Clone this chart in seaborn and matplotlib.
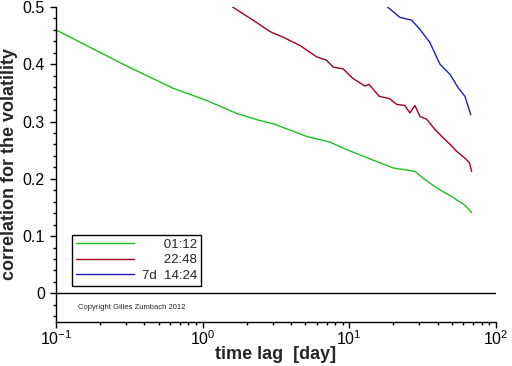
import numpy as np
import pandas as pd
import matplotlib
matplotlib.use("Agg")
import matplotlib.pyplot as plt
import matplotlib.ticker as mticker
import seaborn as sns

# values
green_x = [0.1, 0.303, 0.631, 1.06, 1.71, 2.43, 3.03, 4.15, 5.11, 7.38, 9.59,
           13.8, 15.4, 19.9, 28.0, 31.9, 39.4, 49.8, 61.4, 68.2]
green_y = [0.460, 0.397, 0.358, 0.337, 0.314, 0.302, 0.296, 0.283, 0.274, 0.264,
           0.251, 0.235, 0.230, 0.219, 0.213, 0.201, 0.184, 0.169, 0.154, 0.141]

red_x = [1.60, 2.33, 2.88, 3.55, 4.60, 5.98, 7.0, 7.76, 9.08, 10.6, 12.8, 13.6,
         16.0, 18.8, 21.0, 23.9, 25.9, 28.0, 30.3, 33.7, 38.4, 42.7, 48.7, 53.9,
         61.4, 66.0, 68.2]
red_y = [0.500, 0.473, 0.457, 0.447, 0.433, 0.413, 0.407, 0.395, 0.392, 0.375,
         0.362, 0.365, 0.344, 0.340, 0.330, 0.328, 0.315, 0.328, 0.309, 0.304,
         0.286, 0.274, 0.260, 0.248, 0.236, 0.228, 0.213]

blue_x = [18.2, 22.1, 26.6, 30.3, 35.4, 41.5, 48.7, 55.2, 61.4, 67.3]
blue_y = [0.500, 0.482, 0.477, 0.461, 0.438, 0.400, 0.382, 0.359, 0.344, 0.312]

labels = ["01:12", "22:48", "7d  14:24"]
colors = ["#1ebe1e", "#a0001e", "#2020b4"]

series = [(green_x, green_y), (red_x, red_y), (blue_x, blue_y)]
frames = []
for (xs, ys), lab in zip(series, labels):
    frames.append(pd.DataFrame({"lag": xs, "corr": ys, "series": lab}))
df = pd.concat(frames, ignore_index=True)

sns.set_style("ticks")
plt.rcParams["font.family"] = ["Liberation Sans", "DejaVu Sans"]

fig = plt.figure(figsize=(5.12, 3.66), dpi=100)
ax = fig.add_axes([56 / 512, 44 / 366, 440 / 512, 315 / 366])

sns.lineplot(data=df, x="lag", y="corr", hue="series", palette=colors,
             hue_order=labels, linewidth=1.0, ax=ax, legend=False,
             estimator=None, sort=False)

ax.axhline(0, color="black", linewidth=1.0)

ax.set_xscale("log")
ax.set_xlim(0.1, 100)
ax.set_ylim(-0.05, 0.5)
ax.yaxis.set_major_locator(mticker.FixedLocator([0, 0.1, 0.2, 0.3, 0.4, 0.5]))
ax.yaxis.set_major_formatter(mticker.FixedFormatter(["0", "0.1", "0.2", "0.3", "0.4", "0.5"]))
ax.yaxis.set_minor_locator(mticker.MultipleLocator(0.02))
ax.xaxis.set_major_locator(mticker.LogLocator(base=10))
ax.xaxis.set_minor_locator(mticker.LogLocator(base=10, subs=np.arange(2, 10)))
ax.xaxis.set_minor_formatter(mticker.NullFormatter())

ax.tick_params(which="major", direction="out", length=4.5, width=1, labelsize=11.5,
               color="black", labelcolor="black")
ax.tick_params(axis="x", which="major", pad=1)
ax.tick_params(which="minor", direction="out", length=2.5, width=1, color="black")
for s in ["left", "bottom"]:
    ax.spines[s].set_color("black")
    ax.spines[s].set_linewidth(1)
sns.despine(ax=ax)

ax.set_xlabel("time lag  [day]", fontsize=13, fontweight="bold", labelpad=-2)
ax.set_ylabel("correlation for the volatility", fontsize=13, fontweight="bold", labelpad=3)

# legend with right-aligned labels (pad short ones with spaces)
handles = [plt.Line2D([], [], color=c, linewidth=1.0) for c in colors]
leg_labels = ["      01:12", "      22:48", "7d  14:24"]
leg = ax.legend(handles, leg_labels, loc="lower left", bbox_to_anchor=(0.036, 0.115),
                borderaxespad=0, fontsize=9.5, handlelength=4.4, handletextpad=0.6,
                labelspacing=0.25, borderpad=0.3, fancybox=False, framealpha=1)
leg.get_frame().set_edgecolor("black")
leg.get_frame().set_linewidth(1)

ax.text(0.05, -0.025, "Copyright Gilles Zumbach 2012", transform=ax.get_yaxis_transform(),
        fontsize=5.5, va="center", ha="left")

fig.savefig("out.png", dpi=100)
